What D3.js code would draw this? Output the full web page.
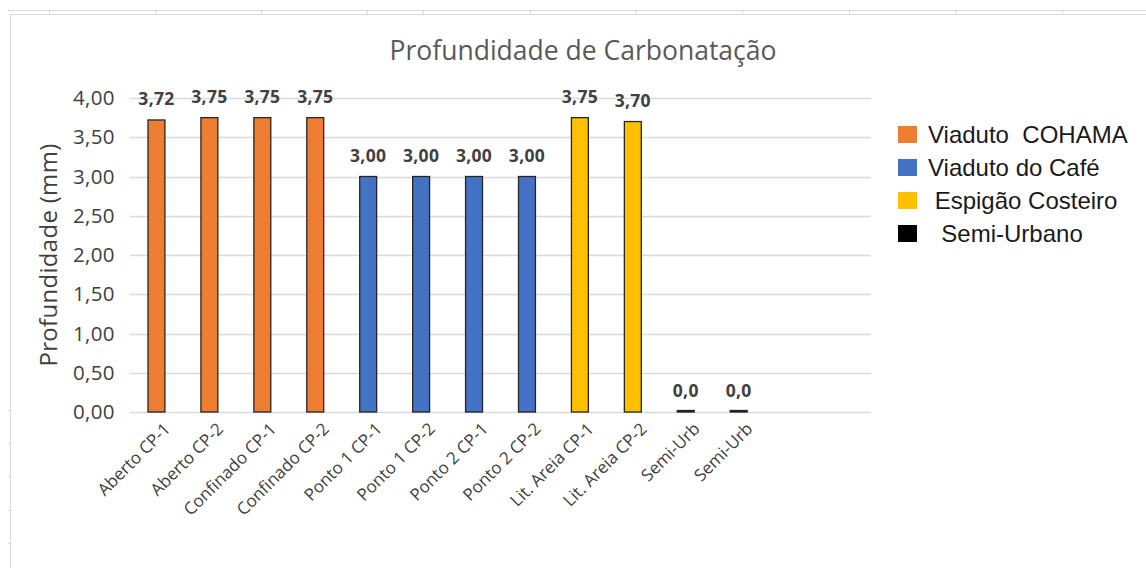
<!DOCTYPE html>
<html>
<head>
<meta charset="utf-8">
<script src="https://cdn.jsdelivr.net/npm/d3@7"></script>
<style>
  body { margin: 0; background: #fff; }
  svg { display: block; }
</style>
</head>
<body>
<script>
const categories = [
  'Aberto CP-1', 'Aberto CP-2', 'Confinado CP-1', 'Confinado CP-2',
  'Ponto 1 CP-1', 'Ponto 1 CP-2', 'Ponto 2 CP-1', 'Ponto 2 CP-2',
  'Lit. Areia CP-1', 'Lit. Areia CP-2', 'Semi-Urb', 'Semi-Urb', '', ''
];
const values = [3.72, 3.75, 3.75, 3.75, 3.0, 3.0, 3.0, 3.0, 3.75, 3.70, 0, 0];
const valueLabels = ['3,72', '3,75', '3,75', '3,75', '3,00', '3,00', '3,00', '3,00', '3,75', '3,70', '0,0', '0,0'];
const groups = [0, 0, 0, 0, 1, 1, 1, 1, 2, 2, 3, 3];
const seriesNames = ['Viaduto  COHAMA', 'Viaduto do Café', ' Espigão Costeiro', '  Semi-Urbano'];
const seriesColors = ['#ED7D31', '#4472C4', '#FFC000', '#000000'];
const yTicks = [0, 0.5, 1, 1.5, 2, 2.5, 3, 3.5, 4];

const width = 1146;
const height = 568;
const plot = { left: 130, right: 871, top: 98, bottom: 412 };
const font = '"Open Sans", Lato, sans-serif';

const svg = d3.select('body')
  .append('svg')
  .attr('width', width)
  .attr('height', height);

// spreadsheet frame
const frame = svg.append('g').attr('stroke', '#d9d9d9').attr('fill', 'none');
frame.append('line').attr('x1', 8).attr('x2', width).attr('y1', 10.5).attr('y2', 10.5);
frame.append('line').attr('x1', 10).attr('x2', width).attr('y1', 14.5).attr('y2', 14.5);
frame.append('line').attr('x1', 10.5).attr('x2', 10.5).attr('y1', 14).attr('y2', height);
[49, 155, 261, 367, 423, 530, 636, 742, 849, 955, 1062].forEach(x => {
  frame.append('line').attr('x1', x + 0.5).attr('x2', x + 0.5).attr('y1', 10).attr('y2', 14);
});
[410, 443, 476, 510, 543].forEach(y => {
  frame.append('line').attr('x1', 8).attr('x2', 10).attr('y1', y + 0.5).attr('y2', y + 0.5);
});

const x = d3.scaleBand()
  .domain(d3.range(categories.length))
  .range([plot.left, plot.right])
  .paddingInner(0.68)
  .paddingOuter(0.34);

const y = d3.scaleLinear()
  .domain([0, 4])
  .range([plot.bottom, plot.top]);

// title
svg.append('text')
  .attr('x', 583)
  .attr('y', 60)
  .attr('text-anchor', 'middle')
  .attr('font-family', font)
  .attr('font-size', 26.5)
  .attr('fill', '#595959')
  .text('Profundidade de Carbonatação');

// gridlines
svg.append('g')
  .selectAll('line')
  .data(yTicks)
  .join('line')
  .attr('x1', plot.left)
  .attr('x2', plot.right)
  .attr('y1', d => Math.round(y(d)) + 0.5)
  .attr('y2', d => Math.round(y(d)) + 0.5)
  .attr('stroke', '#d9d9d9')
  .attr('stroke-width', 1.3);

// y axis labels
const yAxis = d3.axisLeft(y)
  .tickValues(yTicks)
  .tickSize(0)
  .tickPadding(15)
  .tickFormat(d => d3.format('.2f')(d).replace('.', ','));

svg.append('g')
  .attr('transform', `translate(${plot.left},0)`)
  .call(yAxis)
  .call(g => g.select('.domain').remove())
  .call(g => g.selectAll('text')
    .attr('font-family', font)
    .attr('font-size', 20.5)
    .attr('letter-spacing', 0.4)
    .attr('fill', '#404040'));

svg.append('text')
  .attr('transform', `translate(57, ${(plot.top + plot.bottom) / 2}) rotate(-90)`)
  .attr('text-anchor', 'middle')
  .attr('font-family', font)
  .attr('font-size', 24)
  .attr('letter-spacing', 0.3)
  .attr('fill', '#404040')
  .text('Profundidade (mm)');

// x axis labels
const xAxis = d3.axisBottom(x)
  .tickSize(0)
  .tickPadding(0)
  .tickFormat(i => categories[i]);

svg.append('g')
  .attr('transform', `translate(0,${plot.bottom})`)
  .call(xAxis)
  .call(g => g.select('.domain').remove())
  .call(g => g.selectAll('text')
    .attr('font-family', font)
    .attr('font-size', 17)
    .attr('fill', '#404040')
    .attr('text-anchor', 'end')
    .attr('dy', 0)
    .attr('transform', 'translate(15,18) rotate(-45)'));

// bars
const barData = values.map((v, i) => ({ i, v, g: groups[i], label: valueLabels[i] }));

svg.append('g')
  .selectAll('rect')
  .data(barData)
  .join('rect')
  .attr('x', d => x(d.i))
  .attr('y', d => Math.min(y(d.v), plot.bottom - 1.5))
  .attr('width', x.bandwidth())
  .attr('height', d => Math.max(plot.bottom - y(d.v), 1.5))
  .attr('fill', d => seriesColors[d.g])
  .attr('stroke', '#262626')
  .attr('stroke-width', 1.3);

svg.append('g')
  .selectAll('text')
  .data(barData)
  .join('text')
  .attr('x', d => x(d.i) + x.bandwidth() / 2)
  .attr('y', d => y(d.v) - 15)
  .attr('text-anchor', 'middle')
  .attr('font-family', font)
  .attr('font-weight', 'bold')
  .attr('font-size', 17.5)
  .attr('letter-spacing', 0.3)
  .attr('fill', '#404040')
  .text(d => d.label);

// legend
const legend = svg.append('g').attr('transform', 'translate(898,126)');
const item = legend.selectAll('g')
  .data(seriesNames)
  .join('g')
  .attr('transform', (d, i) => `translate(0,${i * 33})`);

item.append('rect')
  .attr('width', 19)
  .attr('height', 17)
  .attr('fill', (d, i) => seriesColors[i]);

item.append('text')
  .attr('x', 30)
  .attr('y', 17)
  .attr('font-family', '"Liberation Sans", Arial, sans-serif')
  .attr('font-size', 24)
  .attr('fill', '#1a1a1a')
  .style('white-space', 'pre')
  .text(d => d);
</script>
</body>
</html>
